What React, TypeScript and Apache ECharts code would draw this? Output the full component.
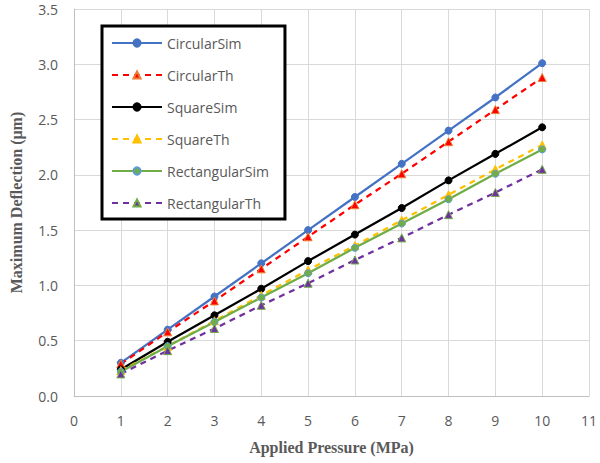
import React, { useEffect, useRef } from "react";
import * as echarts from "echarts";

const pressures = [1, 2, 3, 4, 5, 6, 7, 8, 9, 10];
const circularSim = [0.30, 0.60, 0.90, 1.20, 1.50, 1.80, 2.10, 2.40, 2.70, 3.01];
const circularTh = [0.29, 0.58, 0.86, 1.15, 1.44, 1.73, 2.01, 2.30, 2.59, 2.88];
const squareSim = [0.24, 0.49, 0.73, 0.97, 1.22, 1.46, 1.70, 1.95, 2.19, 2.43];
const squareTh = [0.23, 0.45, 0.68, 0.91, 1.14, 1.36, 1.59, 1.82, 2.05, 2.27];
const rectangularSim = [0.22, 0.45, 0.67, 0.89, 1.11, 1.34, 1.56, 1.78, 2.01, 2.23];
const rectangularTh = [0.20, 0.41, 0.61, 0.82, 1.02, 1.23, 1.43, 1.64, 1.84, 2.05];

const seriesDefs = [
  { name: "CircularSim", data: circularSim, color: "#4472C4", dash: "solid", symbol: "circle", border: "#4472C4" },
  { name: "CircularTh", data: circularTh, color: "#FF0000", dash: "dashed", symbol: "triangle", border: "#ED7D31" },
  { name: "SquareSim", data: squareSim, color: "#000000", dash: "solid", symbol: "circle", border: "#000000" },
  { name: "SquareTh", data: squareTh, color: "#FFC000", dash: "dashed", symbol: "triangle", border: "#FFC000" },
  { name: "RectangularSim", data: rectangularSim, color: "#70AD47", dash: "solid", symbol: "circle", border: "#5B9BD5" },
  { name: "RectangularTh", data: rectangularTh, color: "#7030A0", dash: "dashed", symbol: "triangle", border: "#70AD47" },
];

export default function App() {
  const ref = useRef<HTMLDivElement>(null);
  useEffect(() => {
    const chart = echarts.init(ref.current!, null, { renderer: "svg" });
    chart.setOption({
      animation: false,
      backgroundColor: "#ffffff",
      grid: { left: 68, right: 11, top: 9, bottom: 67, containLabel: false },
      xAxis: {
        type: "value",
        min: 0,
        max: 11,
        interval: 1,
        name: "Applied Pressure (MPa)",
        nameLocation: "middle",
        nameGap: 43,
        nameTextStyle: { fontFamily: "Liberation Serif", fontWeight: "bold", fontSize: 16, color: "#595959" },
        axisLine: { lineStyle: { color: "#BFBFBF", width: 1 } },
        axisTick: { show: false },
        axisLabel: { color: "#595959", fontFamily: "Open Sans", fontSize: 14, margin: 17 },
        splitLine: { show: true, lineStyle: { color: "#D9D9D9", width: 1 } },
      },
      yAxis: {
        type: "value",
        min: 0,
        max: 3.5,
        interval: 0.5,
        name: "Maximum Deflection (μm)",
        nameLocation: "middle",
        nameGap: 50,
        nameTextStyle: { fontFamily: "Liberation Serif", fontWeight: "bold", fontSize: 16, color: "#595959" },
        axisLine: { show: true, lineStyle: { color: "#BFBFBF", width: 1 } },
        axisTick: { show: false },
        axisLabel: {
          color: "#595959",
          fontFamily: "Open Sans",
          fontSize: 14,
          margin: 16,
          formatter: (v: number) => v.toFixed(1),
        },
        splitLine: { show: true, lineStyle: { color: "#D9D9D9", width: 1 } },
      },
      legend: {
        orient: "vertical",
        left: 102,
        top: 26,
        width: 184,
        padding: [7, 16, 6, 9],
        itemGap: 12,
        itemWidth: 50,
        itemHeight: 9,
        borderColor: "#000000",
        borderWidth: 3,
        backgroundColor: "#ffffff",
        textStyle: { color: "#595959", fontFamily: "Open Sans", fontSize: 14, lineHeight: 20, padding: [0, 0, 0, 0] },
        data: seriesDefs.map((s) => s.name),
      },
      series: seriesDefs.map((s) => ({
        name: s.name,
        type: "line",
        data: pressures.map((p, i) => [p, s.data[i]]),
        symbol: s.symbol,
        symbolSize: s.symbol === "triangle" ? 8 : 7,
        showSymbol: true,
        lineStyle: { color: s.color, width: 2.25, type: s.dash === "dashed" ? [6, 5] : "solid" },
        itemStyle: { color: s.color, borderColor: s.border, borderWidth: 1 },
        z: 2,
      })),
    });
    return () => chart.dispose();
  }, []);
  return (
    <div
      ref={ref}
      style={{ position: "fixed", left: 0, top: 0, width: 600, height: 463 }}
    />
  );
}
